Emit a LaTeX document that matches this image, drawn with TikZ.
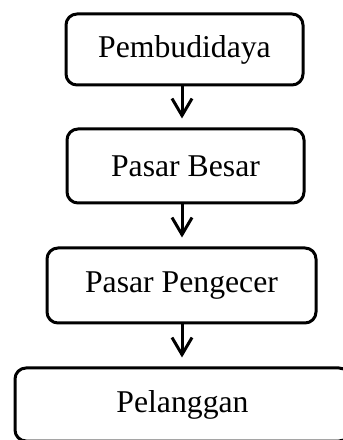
\documentclass[tikz,border=0pt]{standalone}
\usepackage{fontspec}
\setmainfont{Liberation Serif}
\usetikzlibrary{arrows.meta}

\begin{document}
\begin{tikzpicture}[
    x=1pt, y=1pt,
    box/.style={rectangle, draw, line width=3pt, rounded corners=11pt, minimum width=237pt, minimum height=73pt, inner sep=0pt, font=\fontsize{31.7}{38}\selectfont},
    arrow/.style={-{Straight Barb[length=17pt,width=20pt]}, line width=3pt, shorten >=9pt}
]
    \useasboundingbox (0,0) rectangle (343,440);

    % Pembudidaya
    \node[box, minimum height=71pt] (budidaya) at (184.5,390.5) {Pembudidaya};

    % Pasar Besar
    \node[box, minimum height=74pt, below of=budidaya, node distance=116.5pt, xshift=1pt] (besar) {Pasar Besar};

    % Pasar Pengecer
    \node[box, minimum width=269pt, minimum height=75pt, below of=besar, node distance=119.5pt, xshift=-4pt] (pengecer) {Pasar Pengecer};

    % Pelanggan
    \node[box, minimum width=335pt, below of=pengecer, node distance=119pt, xshift=1pt] (pelanggan) {Pelanggan};

    \coordinate (ax) at (182,0);

    % arrows
    \draw[arrow] (budidaya.south -| ax) -- (besar.north -| ax);
    \draw[arrow] (besar.south -| ax) -- (pengecer.north -| ax);
    \draw[arrow] (pengecer.south -| ax) -- (pelanggan.north -| ax);

\end{tikzpicture}
\end{document}
